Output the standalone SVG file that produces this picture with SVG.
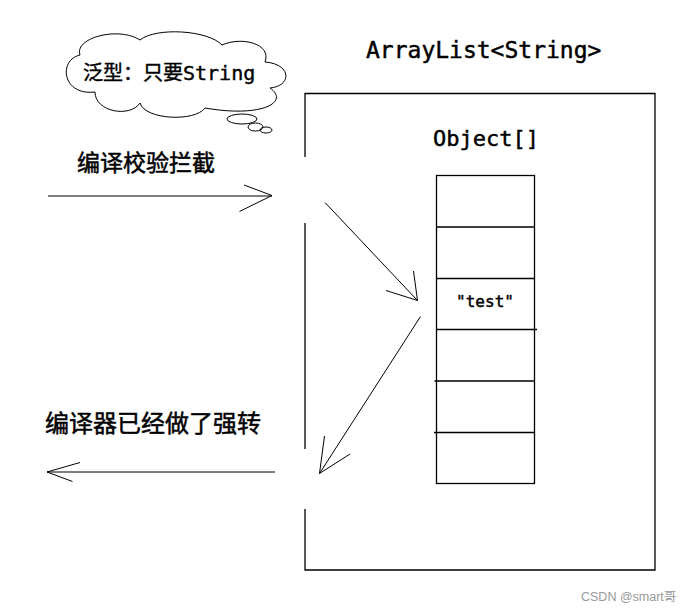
<svg xmlns="http://www.w3.org/2000/svg" width="694" height="612" viewBox="0 0 694 612">
<style>
.bg{fill:#ffffff}
.ln{fill:none;stroke:#000;stroke-width:1.3}
.thin{fill:none;stroke:#000;stroke-width:1}
.mono{font-family:"DejaVu Sans Mono","Liberation Mono",monospace;fill:#000;stroke:#000;stroke-width:0.45}
.cjk{font-family:"Noto Sans CJK SC","Noto Sans",sans-serif;fill:#000;stroke:#000;stroke-width:0.5}
.cloudtxt{font-family:"DejaVu Sans Mono","Noto Sans CJK SC",monospace;fill:#000;stroke:#000;stroke-width:0.4}
.wm{font-family:"Liberation Sans","Noto Sans CJK SC",sans-serif;fill:#999;font-size:12.5px}
</style>
<rect class="bg" x="0" y="0" width="694" height="612"/>

<g id="cloud">
<path class="thin" d="M 80,55 C 74,38 118,26 140,40 C 156,27 208,30 222,45 C 242,36 272,44 265,62 C 292,64 292,86 270,88 C 290,102 262,118 205,108 C 195,122 145,120 140,103 C 130,118 95,112 95,92 C 62,96 58,60 80,55 Z"/>
<ellipse class="thin" cx="242" cy="119" rx="15" ry="5"/>
<ellipse class="thin" cx="255.5" cy="127" rx="7.5" ry="4"/>
<ellipse class="thin" cx="266" cy="130" rx="6" ry="3"/>
<text class="cloudtxt" x="83" y="80" font-size="20">泛型：只要String</text>
</g>

<g id="arraylist">
<text class="mono" x="366" y="58" font-size="23">ArrayList&lt;String&gt;</text>
<path class="ln" d="M305,157 V93.5 H655 V570 H305 V509 M305,223 V449"/>
</g>

<g id="object-array">
<text class="mono" x="433" y="146" font-size="22">Object[]</text>
<rect class="ln" x="436.5" y="175.5" width="98" height="308"/>
<path class="ln" d="M436.5,227 H534.5 M436.5,278.5 H534.5 M436.5,329.5 H537 M434.5,381 H534.5 M434,432.5 H534.5"/>
<text class="mono" x="485" y="307" font-size="16" text-anchor="middle">"test"</text>
</g>

<g id="label-compile">
<text class="cjk" x="77" y="171" font-size="23">编译校验拦截</text>
</g>

<g id="label-cast">
<text class="cjk" x="45" y="431.5" font-size="24">编译器已经做了强转</text>
</g>

<g id="connectors">
<path class="thin" d="M48,196 H272 M244,185 L272,195.5 L239.5,211.5"/>
<path class="thin" d="M325,202.5 L417.5,300.5 M413.5,271 L417.5,300.5 L386,290.5"/>
<path class="thin" d="M420.5,316.5 L319.5,473.5 M324.5,436 L319.5,473.5 L350,454"/>
<path class="thin" d="M275,472 H47 M80,462.5 L47,472 L72.5,481.5"/>
</g>

<text class="wm" x="581" y="601">CSDN @smart哥</text>
</svg>
